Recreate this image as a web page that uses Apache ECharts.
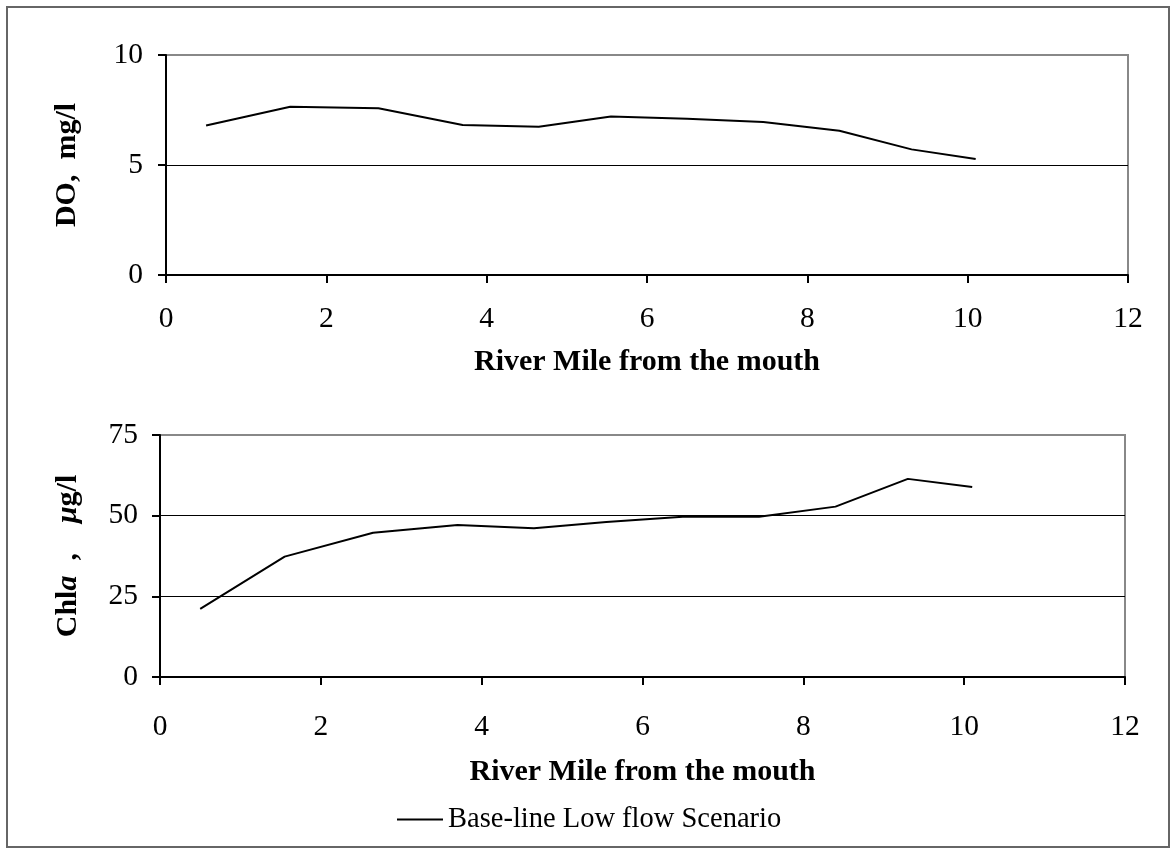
<!DOCTYPE html>
<html>
<head>
<meta charset="utf-8">
<script src="https://cdn.jsdelivr.net/npm/echarts@6/dist/echarts.min.js"></script>
<style>
html,body{margin:0;padding:0;background:#fff;}
#chart{width:1170px;height:849px;}
</style>
</head>
<body>
<div id="chart"></div>
<script>
// River mile of each model station
var riverMile = [0.5, 1.55, 2.65, 3.7, 4.65, 5.55, 6.5, 7.45, 8.4, 9.3, 10.1];
// Dissolved oxygen, mg/l
var doValues = [6.8, 7.65, 7.58, 6.82, 6.74, 7.2, 7.1, 6.95, 6.56, 5.71, 5.27];
// Chlorophyll a, ug/l
var chlaValues = [21.1, 37.3, 44.7, 47.1, 46.1, 48.0, 49.7, 49.7, 52.8, 61.4, 58.9];
var seriesName = 'Base-line Low flow Scenario';
var xTitle = 'River Mile from the mouth';

function pairs(xs, ys) { return xs.map(function (x, i) { return [x, ys[i]]; }); }

var FONT = '"Liberation Serif", "Times New Roman", serif';
var chart = echarts.init(document.getElementById('chart'), null, {renderer: 'canvas'});

function xAxisCfg(gridIndex, labelMargin, nameGap) {
  return {
    type: 'value', gridIndex: gridIndex, min: 0, max: 12, interval: 2,
    name: xTitle, nameLocation: 'middle', nameGap: nameGap,
    nameTextStyle: {fontFamily: FONT, fontSize: 30, fontWeight: 'bold', color: '#000'},
    axisLine: {show: true, onZero: false, lineStyle: {color: '#000', width: 2}},
    axisTick: {show: true, inside: false, length: 8, lineStyle: {color: '#000', width: 2}},
    axisLabel: {margin: labelMargin, fontFamily: FONT, fontSize: 29.5, color: '#000'},
    splitLine: {show: false}
  };
}

chart.setOption({
  animation: false,
  backgroundColor: '#fff',
  graphic: [{
    type: 'rect', shape: {x: 7, y: 7, width: 1162, height: 840},
    style: {fill: 'none', stroke: '#666', lineWidth: 2}, z: -10
  }],
  grid: [
    {left: 166, right: 42, top: 55, height: 220, show: true, borderColor: '#888', borderWidth: 2, backgroundColor: 'transparent'},
    {left: 160, right: 45, top: 435, height: 242, show: true, borderColor: '#888', borderWidth: 2, backgroundColor: 'transparent'}
  ],
  legend: {
    data: [seriesName], left: 392, top: 800, itemWidth: 46, itemHeight: 14, itemGap: 10,
    textStyle: {fontFamily: FONT, fontSize: 28.5, color: '#000'},
    icon: 'path://M0,0 L46,0 L46,2 L0,2 Z',
    itemStyle: {color: '#000'}
  },
  xAxis: [xAxisCfg(0, 29, 72), xAxisCfg(1, 35, 80)],
  yAxis: [
    {
      type: 'value', gridIndex: 0, min: 0, max: 10, interval: 5,
      name: 'DO,  mg/l', nameLocation: 'middle', nameGap: 84, nameRotate: 90,
      nameTextStyle: {fontFamily: FONT, fontSize: 30, fontWeight: 'bold', color: '#000'},
      axisLine: {show: true, onZero: false, lineStyle: {color: '#000', width: 2}},
      axisTick: {show: true, inside: false, length: 8, lineStyle: {color: '#000', width: 2}},
      axisLabel: {margin: 23, fontFamily: FONT, fontSize: 29.5, color: '#000'},
      splitLine: {show: true, lineStyle: {color: ['#000', '#000', '#888'], width: 1.2}}
    },
    {
      type: 'value', gridIndex: 1, min: 0, max: 75, interval: 25,
      name: '{b|Chl}{bi|a}{b|  ,    }{bi|\u03bc}{b|g/l}', nameLocation: 'middle', nameGap: 77, nameRotate: 90,
      nameTextStyle: {
        fontFamily: FONT, fontSize: 30, fontWeight: 'bold', color: '#000',
        rich: {
          b: {fontFamily: FONT, fontSize: 30, fontWeight: 'bold', color: '#000'},
          bi: {fontFamily: FONT, fontSize: 30, fontWeight: 'bold', fontStyle: 'italic', color: '#000'}
        }
      },
      axisLine: {show: true, onZero: false, lineStyle: {color: '#000', width: 2}},
      axisTick: {show: true, inside: false, length: 8, lineStyle: {color: '#000', width: 2}},
      axisLabel: {margin: 22, fontFamily: FONT, fontSize: 29.5, color: '#000'},
      splitLine: {show: true, lineStyle: {color: ['#000', '#000', '#000', '#888'], width: 1.2}}
    }
  ],
  series: [
    {
      name: seriesName, type: 'line', xAxisIndex: 0, yAxisIndex: 0,
      data: pairs(riverMile, doValues), symbol: 'none', smooth: false,
      lineStyle: {color: '#000', width: 2}, itemStyle: {color: '#000'}
    },
    {
      name: seriesName, type: 'line', xAxisIndex: 1, yAxisIndex: 1,
      data: pairs(riverMile, chlaValues), symbol: 'none', smooth: false,
      lineStyle: {color: '#000', width: 2}, itemStyle: {color: '#000'}
    }
  ]
});
</script>
</body>
</html>
